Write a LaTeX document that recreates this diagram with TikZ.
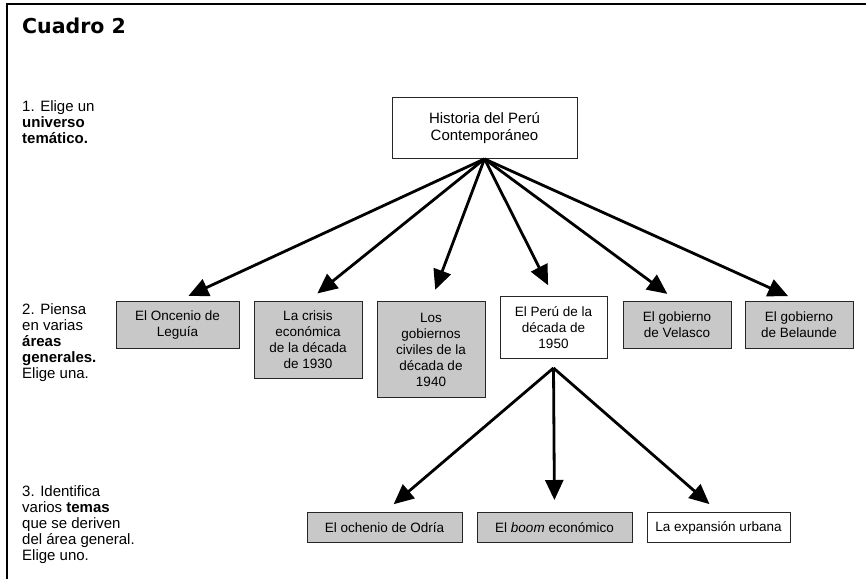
\documentclass[tikz,border=0pt]{standalone}
\usepackage{fontspec}
\setmainfont{Liberation Sans}
\newfontfamily\titulofont{DejaVu Sans}
\usetikzlibrary{arrows.meta}
\definecolor{grisCaja}{RGB}{200,200,200}
\tikzset{
  caja/.style={draw=black!85, line width=0.9pt, align=center,
    font=\fontsize{13.5}{16}\selectfont, inner xsep=4pt, inner ysep=6pt},
  cajagris/.style={caja, fill=grisCaja},
  flecha/.style={line width=2.8pt, -{Triangle[length=20pt,width=18pt]},
    shorten >=12pt},
  paso/.style={anchor=west, align=left, inner sep=0pt,
    font=\fontsize{15}{16}\selectfont}
}

\begin{document}
\begin{tikzpicture}[x=1pt, y=-1pt]
  \useasboundingbox (0,0) rectangle (866,579);
  \draw[line width=1.5pt] (866,4) -- (7,4) -- (7,579);
  \node[anchor=base west, inner sep=0pt, font=\titulofont\bfseries\fontsize{20.5}{24}\selectfont]
    (titulo) at (22,33) {Cuadro 2};

  % pasos
  \node[paso] (paso1) at (22,122)
    {1. Elige un\\\textbf{universo}\\\textbf{temático.}};
  \node[paso] (paso2) at (22,342.5)
    {2. Piensa\\en varias\\\textbf{áreas}\\\textbf{generales.}\\Elige una.};
  \node[paso] (paso3) at (22,524.5)
    {3. Identifica\\varios \textbf{temas}\\que se deriven\\del área general.\\Elige uno.};

  % universo
  \node[caja, anchor=north, minimum width=185, minimum height=61,
    font=\fontsize{15}{17}\selectfont]
    (historia) at (484.5,97) {Historia del Perú\\Contemporáneo};

  % areas generales
  \node[cajagris, anchor=north, minimum width=123, minimum height=47]
    (oncenio) at (177.5,301) {El Oncenio de\\Leguía};
  \node[cajagris, anchor=north, minimum width=108, minimum height=77]
    (crisis) at (308,301) {La crisis\\económica\\de la década\\de 1930};
  \node[cajagris, anchor=north, minimum width=108, minimum height=96]
    (civiles) at (431,301) {Los\\gobiernos\\civiles de la\\década de\\1940};
  \node[caja, anchor=north, minimum width=107, minimum height=62]
    (peru) at (553.5,296) {El Perú de la\\década de\\1950};
  \node[cajagris, anchor=north, minimum width=108, minimum height=47]
    (velasco) at (677,301) {El gobierno\\de Velasco};
  \node[cajagris, anchor=north, minimum width=108, minimum height=47]
    (belaunde) at (799,301) {El gobierno\\de Belaunde};

  % temas
  \coordinate (ramal) at (553.5,368);
  \node[cajagris, anchor=north, minimum width=155, minimum height=30]
    (ochenio) at (384.5,512) {El ochenio de Odría};
  \node[cajagris, anchor=north, minimum width=155, minimum height=30]
    (boom) at (554.5,512) {El \emph{boom} económico};
  \node[caja, anchor=north, minimum width=143, minimum height=30]
    (expansion) at (718.5,512) {La expansión urbana};

  \foreach \destino in {oncenio,crisis,civiles,peru,velasco,belaunde}
    \draw[flecha] (historia.south) -- (\destino.north);
  \foreach \destino in {ochenio,boom,expansion}
    \draw[flecha] (ramal) -- (\destino.north);
\end{tikzpicture}
\end{document}
